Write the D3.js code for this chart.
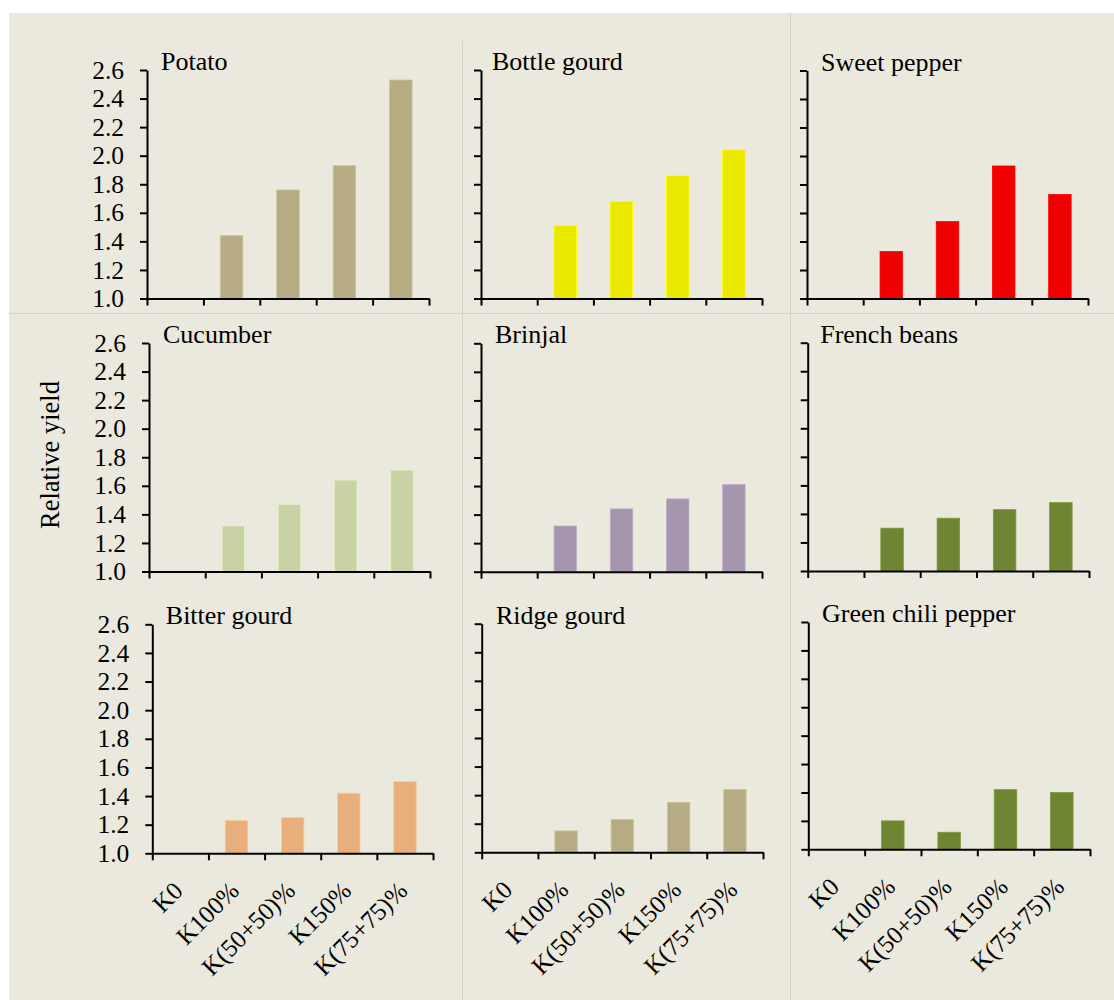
<!DOCTYPE html>
<html>
<head>
<meta charset="utf-8">
<script src="https://cdn.jsdelivr.net/npm/d3@7"></script>
<style>
  html, body { margin: 0; padding: 0; background: #ffffff; }
  svg { display: block; }
  text { font-family: "Liberation Serif", "Times New Roman", serif; fill: #000; }
</style>
</head>
<body>
<svg id="chart" width="1114" height="1000"></svg>
<script>
// ---------- data ----------
const categories = ["K0", "K100%", "K(50+50)%", "K150%", "K(75+75)%"];
const crops = ["Potato", "Bottle gourd", "Sweet pepper",
               "Cucumber", "Brinjal", "French beans",
               "Bitter gourd", "Ridge gourd", "Green chili pepper"];
const potato      = [1.00, 1.44, 1.76, 1.93, 2.53];
const bottleGourd = [1.00, 1.51, 1.68, 1.86, 2.04];
const sweetPepper = [1.00, 1.33, 1.54, 1.93, 1.73];
const cucumber    = [1.00, 1.32, 1.47, 1.64, 1.71];
const brinjal     = [1.00, 1.32, 1.44, 1.51, 1.61];
const frenchBeans = [1.00, 1.30, 1.37, 1.43, 1.48];
const bitterGourd = [1.00, 1.23, 1.25, 1.42, 1.50];
const ridgeGourd  = [1.00, 1.15, 1.23, 1.35, 1.44];
const greenChili  = [1.00, 1.20, 1.12, 1.42, 1.40];
const seriesValues = [potato, bottleGourd, sweetPepper, cucumber, brinjal,
                      frenchBeans, bitterGourd, ridgeGourd, greenChili];
const colors = ["#b6ab82", "#ebe800", "#ee0000",
                "#c8d2a5", "#a596ae", "#6e8533",
                "#e8ae7c", "#b6ab82", "#6e8533"];
const yTicks = [1.0, 1.2, 1.4, 1.6, 1.8, 2.0, 2.2, 2.4, 2.6];
const yDomain = [1.0, 2.6];
const yLabel = "Relative yield";

// ---------- layout (panel frames) ----------
const frames = [
  {x0: 147,   x1: 429,  top: 70,    bottom: 298.5, tdx: 14},
  {x0: 481,   x1: 762,  top: 70,    bottom: 298.5, tdx: 11},
  {x0: 807,   x1: 1088, top: 70.5,  bottom: 298.5, tdx: 14},
  {x0: 149,   x1: 430,  top: 343,   bottom: 571.5, tdx: 14},
  {x0: 481,   x1: 762,  top: 343.3, bottom: 571.7, tdx: 14},
  {x0: 807.7, x1: 1089, top: 342.7, bottom: 571,   tdx: 12.5},
  {x0: 152.3, x1: 433,  top: 624.3, bottom: 853.3, tdx: 13.5},
  {x0: 481.7, x1: 763,  top: 623.7, bottom: 852.3, tdx: 14.3},
  {x0: 808.3, x1: 1090, top: 622,   bottom: 849.3, tdx: 13.7}
];

const svg = d3.select("#chart");

// background
svg.append("rect").attr("x", 9).attr("y", 13).attr("width", 1105).attr("height", 987)
  .attr("fill", "#ebe8de");

// panel divider lines
const divColor = "#d8d2bd";
svg.append("line").attr("x1", 9).attr("x2", 1114).attr("y1", 313.5).attr("y2", 313.5)
  .attr("stroke", divColor).attr("stroke-width", 1);
svg.append("line").attr("x1", 462.5).attr("x2", 462.5).attr("y1", 41).attr("y2", 1000)
  .attr("stroke", divColor).attr("stroke-width", 1);
svg.append("line").attr("x1", 790.5).attr("x2", 790.5).attr("y1", 13).attr("y2", 1000)
  .attr("stroke", divColor).attr("stroke-width", 1);

crops.forEach((crop, i) => {
  const f = frames[i];
  const col = i % 3, row = Math.floor(i / 3);
  const g = svg.append("g");

  const x = d3.scaleBand().domain(categories).range([f.x0, f.x1])
    .paddingInner(0.6).paddingOuter(0.3);
  const xEdge = d3.scaleLinear().domain([0, categories.length]).range([f.x0, f.x1]);
  const y = d3.scaleLinear().domain(yDomain).range([f.bottom, f.top]);

  const data = categories.map((c, k) => ({c, v: seriesValues[i][k]}));

  // bars
  g.selectAll("rect.bar").data(data).join("rect")
    .attr("class", "bar")
    .attr("x", d => x(d.c))
    .attr("width", x.bandwidth())
    .attr("y", d => y(d.v))
    .attr("height", d => y(yDomain[0]) - y(d.v))
    .attr("fill", colors[i])
    .attr("stroke", d3.color(colors[i]).brighter(0.4))
    .attr("stroke-width", 0.8);

  // y axis
  const yAxis = d3.axisLeft(y).tickValues(yTicks).tickSize(7).tickSizeOuter(0)
    .tickPadding(16)
    .tickFormat(col === 0 ? d3.format(".1f") : "");
  const ya = g.append("g").attr("transform", `translate(${f.x0},0)`).call(yAxis);
  ya.select(".domain").attr("stroke", "#000").attr("stroke-width", 2);
  ya.selectAll(".tick line").attr("stroke", "#000").attr("stroke-width", 2);
  ya.selectAll(".tick text").attr("font-size", 25.5)
    .attr("font-family", "Liberation Serif, Times New Roman, serif").attr("fill", "#000");

  // x axis (tick marks at category boundaries)
  const xAxis = d3.axisBottom(xEdge).tickValues(d3.range(categories.length + 1))
    .tickSize(7).tickSizeOuter(0).tickFormat("");
  const xa = g.append("g").attr("transform", `translate(0,${f.bottom})`).call(xAxis);
  xa.select(".domain").attr("stroke", "#000").attr("stroke-width", 2);
  xa.selectAll(".tick line").attr("stroke", "#000").attr("stroke-width", 2);

  // category labels in bottom row
  if (row === 2) {
    g.selectAll("text.cat").data(categories).join("text")
      .attr("class", "cat")
      .attr("transform", c => `translate(${x(c) + x.bandwidth() / 2 + 4},${f.bottom + 39}) rotate(-45)`)
      .attr("text-anchor", "end")
      .attr("font-size", 25)
      .text(c => c);
  }

  // title
  g.append("text")
    .attr("x", f.x0 + f.tdx)
    .attr("y", f.top)
    .attr("font-size", 26)
    .text(crop);
});

// y axis title
svg.append("text")
  .attr("transform", "translate(50,455) rotate(-90)")
  .attr("text-anchor", "middle")
  .attr("dominant-baseline", "central")
  .attr("font-size", 26.5)
  .text(yLabel);
</script>
</body>
</html>
